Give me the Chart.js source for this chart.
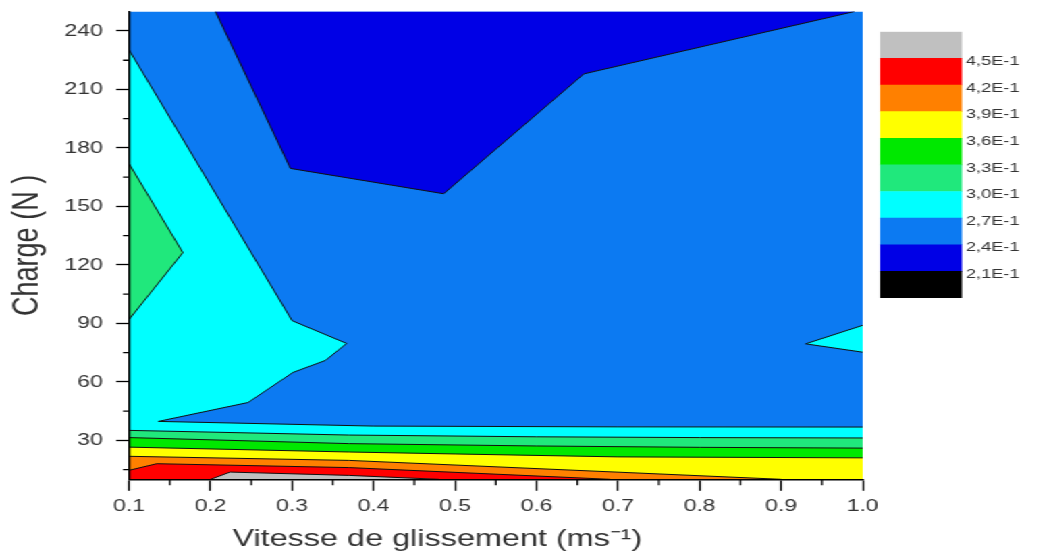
<!DOCTYPE html>
<html>
<head>
<meta charset="utf-8">
<script src="https://cdn.jsdelivr.net/npm/chart.js@4.4.1/dist/chart.umd.min.js"></script>
<style>
  html, body { margin: 0; padding: 0; background: #fff; overflow: hidden; }
  /* the original figure is stretched sideways, so the whole drawing is too */
  #stage { position: absolute; left: 0; top: 0; width: 774px; height: 555px;
           transform: scaleX(1.35); transform-origin: 0 0; }
  #stage canvas { position: absolute; left: 0; top: 0; }
</style>
</head>
<body>
<div id="stage">
  <canvas id="plot" width="774" height="555"></canvas>
  <canvas id="scale" width="774" height="555"></canvas>
</div>
<script>
// ===== Axes =====
const X_MIN = 0.1, X_MAX = 1.0;
const Y_MIN = 10, Y_MAX = 250;
const X_TICKS = [0.1, 0.2, 0.3, 0.4, 0.5, 0.6, 0.7, 0.8, 0.9, 1.0];
const X_MINOR = [0.15, 0.25, 0.35, 0.45, 0.55, 0.65, 0.75, 0.85, 0.95];
const Y_TICKS = [30, 60, 90, 120, 150, 180, 210, 240];
const Y_MINOR = [15, 45, 75, 105, 135, 165, 195, 225];

// ===== Colour scale (band i lies between BAND_EDGES[i] and BAND_EDGES[i+1]) =====
const LEVELS = [0.21, 0.24, 0.27, 0.30, 0.33, 0.36, 0.39, 0.42, 0.45];
const BAND_EDGES = [0.18, 0.21, 0.24, 0.27, 0.30, 0.33, 0.36, 0.39, 0.42, 0.45, 0.48];
const BAND_COLORS = ['#000000', '#0000e6', '#0c7af2', '#00ffff', '#20e87c',
                     '#00e800', '#ffff00', '#ff8000', '#ff0000', '#c0c0c0'];

// ===== Contour lines, [vitesse, charge] =====
const C024_TOP   = [[0.206, 250], [0.298, 169.5], [0.486, 156.5], [0.658, 218], [0.99, 250]];
const C027_LEFT  = [[0.1, 230.3], [0.300, 91.4], [0.367, 79.7], [0.341, 71.0], [0.301, 64.8],
                    [0.246, 49.4], [0.136, 39.7], [0.4, 37.3], [0.7, 36.9], [1.0, 36.8]];
const C027_RIGHT = [[1.0, 89], [0.93, 79.5], [1.0, 75.2]];
const C030_LEFT  = [[0.1, 171.9], [0.166, 126.3], [0.1, 92]];
const C030_LOW   = [[0.1, 35.1], [0.37, 32.7], [0.6, 31.8], [0.8, 31.4], [1.0, 31.2]];
const C033       = [[0.1, 31.4], [0.37, 28.3], [0.6, 27.1], [0.8, 26.4], [1.0, 26.0]];
const C036       = [[0.1, 26.5], [0.37, 24.0], [0.5, 23.0], [0.7, 21.5], [1.0, 21.0]];
const C039       = [[0.1, 21.8], [0.37, 19.7], [0.9, 10]];
const C042       = [[0.1, 14.6], [0.134, 18.0], [0.37, 16.0], [0.69, 10]];
const C045       = [[0.2, 10], [0.224, 13.7], [0.37, 12.0], [0.48, 10]];

// plot corners used to close the areas
const BOX          = [[X_MIN, Y_MIN], [X_MAX, Y_MIN], [X_MAX, Y_MAX], [X_MIN, Y_MAX]];
const BOTTOM_RIGHT = [X_MAX, Y_MIN];
const BOTTOM_LEFT  = [X_MIN, Y_MIN];

const FONT = "'Liberation Sans', Arial, sans-serif";
const TEXT = '#333333';

const toPts = arr => arr.map(([x, y]) => ({ x, y }));

// filled area, painted back to front
let areaOrder = 1000;
function area(points, band) {
  return {
    data: toPts(points), showLine: true, fill: 'shape',
    backgroundColor: BAND_COLORS[band], borderWidth: 0,
    pointRadius: 0, tension: 0, order: areaOrder--
  };
}
function contour(points) {
  return {
    data: toPts(points), showLine: true, fill: false,
    borderColor: '#101010', borderWidth: 1, pointRadius: 0, tension: 0, order: 0
  };
}

const areas = [
  area(BOX, 2),
  area(C024_TOP, 1),
  area([...C027_LEFT, BOTTOM_RIGHT, BOTTOM_LEFT], 3),
  area(C027_RIGHT, 3),
  area(C030_LEFT, 4),
  area([...C030_LOW, BOTTOM_RIGHT, BOTTOM_LEFT], 4),
  area([...C033, BOTTOM_RIGHT, BOTTOM_LEFT], 5),
  area([...C036, BOTTOM_RIGHT, BOTTOM_LEFT], 6),
  area([...C039, BOTTOM_LEFT], 7),
  area([...C042, BOTTOM_LEFT], 8),
  area(C045, 9),
];
const lines = [C024_TOP, C027_LEFT, C027_RIGHT, C030_LEFT, C030_LOW, C033, C036, C039, C042, C045]
  .map(contour);

// ---- minor tick marks (Chart.js only has one tick length per axis) ----
const minorTicks = {
  id: 'minorTicks',
  afterDraw(chart) {
    const { ctx, chartArea, scales: { x, y } } = chart;
    ctx.save();
    ctx.strokeStyle = '#000';
    ctx.lineWidth = 1.3;
    ctx.beginPath();
    X_MINOR.forEach(v => {
      const px = x.getPixelForValue(v);
      ctx.moveTo(px, chartArea.bottom);
      ctx.lineTo(px, chartArea.bottom + 6);
    });
    Y_MINOR.forEach(v => {
      const py = y.getPixelForValue(v);
      ctx.moveTo(chartArea.left, py);
      ctx.lineTo(chartArea.left - 4.5, py);
    });
    ctx.stroke();
    ctx.restore();
  }
};

// fixed box sizes so the plot area lands where the figure has it
function fixBox(size) {
  return s => {
    if (s.isHorizontal()) s.height = size; else s.width = size;
    s.paddingTop = s.paddingBottom = s.paddingLeft = s.paddingRight = 0;
  };
}

new Chart(document.getElementById('plot'), {
  type: 'scatter',
  data: { datasets: [...areas, ...lines] },
  options: {
    responsive: false,
    animation: false,
    events: [],
    layout: { padding: { left: 0, top: 11.5, right: 135, bottom: 0 } },
    plugins: { legend: { display: false }, tooltip: { enabled: false } },
    scales: {
      x: {
        type: 'linear', min: X_MIN, max: X_MAX,
        afterBuildTicks: s => { s.ticks = X_TICKS.map(v => ({ value: v })); },
        afterFit: fixBox(75.7),
        grid: { drawOnChartArea: false, tickLength: 11.5, tickColor: '#000', tickWidth: 1.3 },
        border: { display: true, color: '#000', width: 1.5, z: 1 },
        ticks: {
          padding: 5, color: TEXT, autoSkip: false, maxRotation: 0,
          font: { family: FONT, size: 17 },
          callback: v => v.toFixed(1)
        },
        title: {
          display: true,
          // trailing spaces pull the centred title left, as in the figure
          text: 'Vitesse de glissement (ms\u207B\u00B9)' + ' '.repeat(13),
          color: TEXT,
          font: { family: FONT, size: 24 },
          padding: { top: 0, bottom: 1 }
        }
      },
      y: {
        type: 'linear', min: Y_MIN, max: Y_MAX,
        afterBuildTicks: s => { s.ticks = Y_TICKS.map(v => ({ value: v })); },
        afterFit: fixBox(95.6),
        grid: { drawOnChartArea: false, tickLength: 9.5, tickColor: '#000', tickWidth: 1.3 },
        border: { display: true, color: '#000', width: 1.5, z: 1 },
        ticks: {
          padding: 10, color: TEXT, autoSkip: false,
          font: { family: FONT, size: 17 },
          callback: v => String(v)
        },
        title: {
          display: true,
          text: 'Charge (N )',
          color: TEXT,
          font: { family: FONT, size: 27 },
          padding: { top: 4, bottom: 0 }
        }
      }
    }
  },
  plugins: [minorTicks]
});

// ===== colour bar on the right =====
new Chart(document.getElementById('scale'), {
  type: 'bar',
  data: {
    labels: [''],
    datasets: BAND_COLORS.map((c, i) => ({
      data: [[BAND_EDGES[i], BAND_EDGES[i + 1]]],
      backgroundColor: c, borderWidth: 0,
      barPercentage: 1, categoryPercentage: 1, grouped: false
    }))
  },
  options: {
    responsive: false,
    animation: false,
    events: [],
    layout: { padding: { left: 651.85, top: 31.7, right: 11.4, bottom: 257 } },
    plugins: { legend: { display: false }, tooltip: { enabled: false } },
    scales: {
      x: { display: false },
      y: {
        position: 'right', min: BAND_EDGES[0], max: BAND_EDGES[BAND_EDGES.length - 1],
        afterBuildTicks: s => { s.ticks = LEVELS.map(v => ({ value: v })); },
        afterFit: fixBox(50),
        grid: { display: false, drawTicks: false },
        border: { display: false },
        ticks: {
          padding: 3, labelOffset: 3, color: TEXT,
          font: { family: FONT, size: 13.5 },
          callback: v => (v * 10).toFixed(1).replace('.', ',') + 'E-1'
        }
      }
    }
  }
});
</script>
</body>
</html>
